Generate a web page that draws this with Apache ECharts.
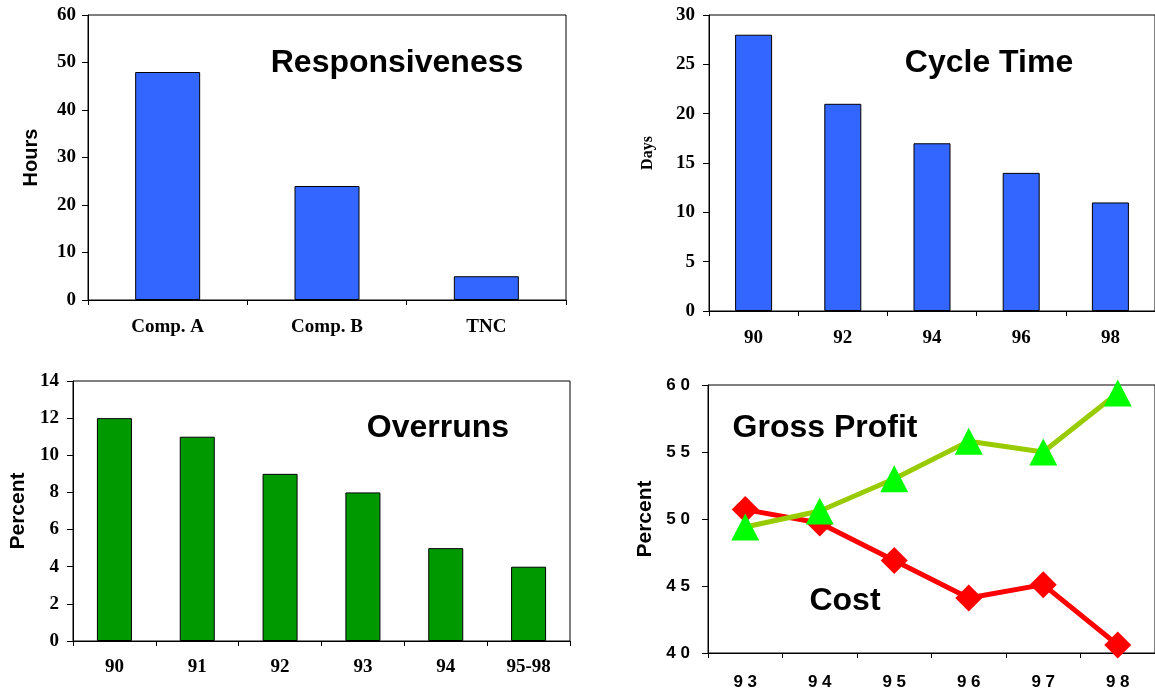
<!DOCTYPE html>
<html>
<head>
<meta charset="utf-8">
<script src="https://cdn.jsdelivr.net/npm/echarts@6/dist/echarts.min.js"></script>
<style>
  html, body { margin: 0; padding: 0; background: #fff; }
  #chart { width: 1155px; height: 694px; }
</style>
</head>
<body>
<div id="chart"></div>
<script>
// Responsiveness (hours)
const respCategories = ['Comp. A', 'Comp. B', 'TNC'];
const respHours = [48, 24, 5];

// Cycle time (days)
const cycleYears = ['90', '92', '94', '96', '98'];
const cycleDays = [28, 21, 17, 14, 11];

// Overruns (percent)
const overrunYears = ['90', '91', '92', '93', '94', '95-98'];
const overrunPercent = [12, 11, 9, 8, 5, 4];

// Gross profit vs cost (percent)
const marginYears = ['93', '94', '95', '96', '97', '98'];
const grossProfit = [49.4, 50.6, 53, 55.8, 55, 59.4];
const costPercent = [50.7, 49.7, 46.9, 44.1, 45.1, 40.6];

const SERIF = '"Liberation Serif", "Times New Roman", serif';
const SANS = '"Liberation Sans", Arial, sans-serif';
const spaced = v => String(v).split('').join(' ');

const serifTick = { fontFamily: SERIF, fontWeight: 'bold', fontSize: 19, color: '#000' };
const sansTick = { fontFamily: SANS, fontWeight: 'bold', fontSize: 17, color: '#000', formatter: spaced };
const axisLine = { show: true, lineStyle: { color: '#000', width: 1 } };

function catAxis(gridIndex, data, label, margin) {
  return {
    type: 'category', gridIndex, data,
    boundaryGap: true,
    axisLine,
    axisTick: { show: true, inside: false, length: 5, lineStyle: { color: '#000' } },
    axisLabel: Object.assign({ margin }, label),
    splitLine: { show: false }
  };
}
function valAxis(gridIndex, min, max, interval, name, nameStyle, nameGap, label, margin) {
  return {
    type: 'value', gridIndex, min, max, interval,
    name, nameLocation: 'middle', nameRotate: 90, nameGap,
    nameTextStyle: nameStyle,
    axisLine,
    axisTick: { show: true, inside: false, length: 6, lineStyle: { color: '#000' } },
    axisLabel: Object.assign({ margin }, label),
    splitLine: { show: false }
  };
}

const barBorder = { borderColor: '#000', borderWidth: 1 };
const headline = (text, x, y) => ({
  type: 'text', x, y,
  style: { text, font: 'bold 32px ' + SANS, fill: '#000', textAlign: 'center', textVerticalAlign: 'middle' }
});

const chart = echarts.init(document.getElementById('chart'), null, { renderer: 'canvas' });
chart.setOption({
  animation: false,
  backgroundColor: '#fff',
  grid: [
    { left: 88, top: 15, width: 478, height: 285, show: true, borderColor: '#000', borderWidth: 1, backgroundColor: 'transparent' },
    { left: 709, top: 15, width: 451, height: 296, show: true, borderColor: '#000', borderWidth: 1, backgroundColor: 'transparent' },
    { left: 73, top: 381, width: 497, height: 260, show: true, borderColor: '#000', borderWidth: 1, backgroundColor: 'transparent' },
    { left: 708, top: 385, width: 448, height: 268, show: true, borderColor: '#000', borderWidth: 1, backgroundColor: 'transparent' }
  ],
  xAxis: [
    catAxis(0, respCategories, serifTick, 18),
    catAxis(1, cycleYears, serifTick, 18),
    catAxis(2, overrunYears, serifTick, 17),
    catAxis(3, marginYears, sansTick, 21)
  ],
  yAxis: [
    valAxis(0, 0, 60, 10, 'Hours', { fontFamily: SANS, fontWeight: 'bold', fontSize: 20, color: '#000' }, 47, serifTick, 12),
    valAxis(1, 0, 30, 5, 'Days', { fontFamily: SERIF, fontWeight: 'bold', fontSize: 16, color: '#000', padding: [0, 0, 0, 20] }, 53, serifTick, 14),
    valAxis(2, 0, 14, 2, 'Percent', { fontFamily: SANS, fontWeight: 'bold', fontSize: 21, color: '#000' }, 44, serifTick, 14),
    valAxis(3, 40, 60, 5, 'Percent', { fontFamily: SANS, fontWeight: 'bold', fontSize: 21, color: '#000' }, 52, sansTick, 18)
  ],
  series: [
    { type: 'bar', xAxisIndex: 0, yAxisIndex: 0, data: respHours, barWidth: 65,
      itemStyle: Object.assign({ color: '#3366FF' }, barBorder) },
    { type: 'bar', xAxisIndex: 1, yAxisIndex: 1, data: cycleDays, barWidth: 37,
      itemStyle: Object.assign({ color: '#3366FF' }, barBorder) },
    { type: 'bar', xAxisIndex: 2, yAxisIndex: 2, data: overrunPercent, barWidth: 35,
      itemStyle: Object.assign({ color: '#009900' }, barBorder) },
    { type: 'line', name: 'Cost', xAxisIndex: 3, yAxisIndex: 3, data: costPercent,
      symbol: 'diamond', symbolSize: 27, showAllSymbol: true,
      lineStyle: { color: '#FF0000', width: 5 },
      itemStyle: { color: '#FF0000' } },
    { type: 'line', name: 'Gross Profit', xAxisIndex: 3, yAxisIndex: 3, data: grossProfit,
      symbol: 'triangle', symbolSize: [28, 27], showAllSymbol: true,
      lineStyle: { color: '#99CC00', width: 5 },
      itemStyle: { color: '#00FF00' } }
  ],
  graphic: [
    headline('Responsiveness', 397, 63),
    headline('Cycle Time', 989, 63),
    headline('Overruns', 438, 428),
    headline('Gross Profit', 825, 428),
    headline('Cost', 845, 601)
  ]
});
</script>
</body>
</html>
